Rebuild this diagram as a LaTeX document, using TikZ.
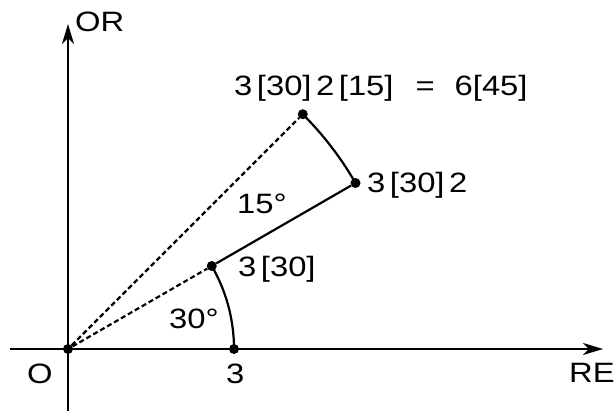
\documentclass[tikz,border=0pt]{standalone}
\usepackage{fontspec}
\setmainfont[FakeStretch=1.17, WordSpace=0.5]{Liberation Sans}
\usetikzlibrary{arrows.meta}
\tikzset{
  axisline/.style={-{Stealth[length=20pt, width=12pt, inset=6pt]}, line width=2.2pt},
  vecline/.style={line width=2.2pt},
  dashline/.style={line width=2.2pt, dash pattern=on 5pt off 3pt},
  pointdot/.style={circle, fill=black, inner sep=0pt, minimum size=10pt},
  lbl/.style={inner sep=0pt, anchor=base west, font=\fontsize{28}{32}\selectfont},
}

\begin{document}
\begin{tikzpicture}[x=1pt, y=1pt]
  \useasboundingbox (-68,-62) rectangle (547,349);
  % axes
  \coordinate (xl) at (-58,0);
  \coordinate (xr) at (535,0);
  \coordinate (yb) at (0,-62);
  \coordinate (yt) at (0,325);
  \draw[axisline] (xl) -- (xr);
  \draw[axisline] (yb) -- (yt);
  % points
  \node[pointdot] (o) at (0,0) {};
  \node[pointdot] (p3) at (0:166) {};
  \node[pointdot] (p30) at (30:166) {};
  \node[pointdot] (p302) at (30:332) {};
  \node[pointdot] (p45) at (45:332) {};
  % vectors and arcs
  \draw[dashline] (o) -- (p30);
  \draw[dashline] (o) -- (p45);
  \draw[vecline] (p30) -- (p302);
  \draw[vecline] (p3.center) arc[start angle=0, end angle=30, radius=166];
  \draw[vecline] (p302.center) arc[start angle=30, end angle=45, radius=332];
  % labels
  \node[lbl] (lor) at (7,317) {OR};
  \node[lbl] (lre) at (501,-34) {RE};
  \node[lbl] (lo) at (-41,-35) {O};
  \node[lbl] (l3) at (158,-35) {3};
  \node[lbl] (l30) at (170,72) {3 [30]};
  \node[lbl] (l302) at (299,156) {3 [30] 2};
  \node[lbl] (ang30) at (101,20) {30°};
  \node[lbl] (ang15) at (169,135) {15°};
  \node[lbl] (leq) at (166,253) {3 [30] 2 [15]\hspace{22pt}=\hspace{20pt}6[45]};
\end{tikzpicture}
\end{document}
